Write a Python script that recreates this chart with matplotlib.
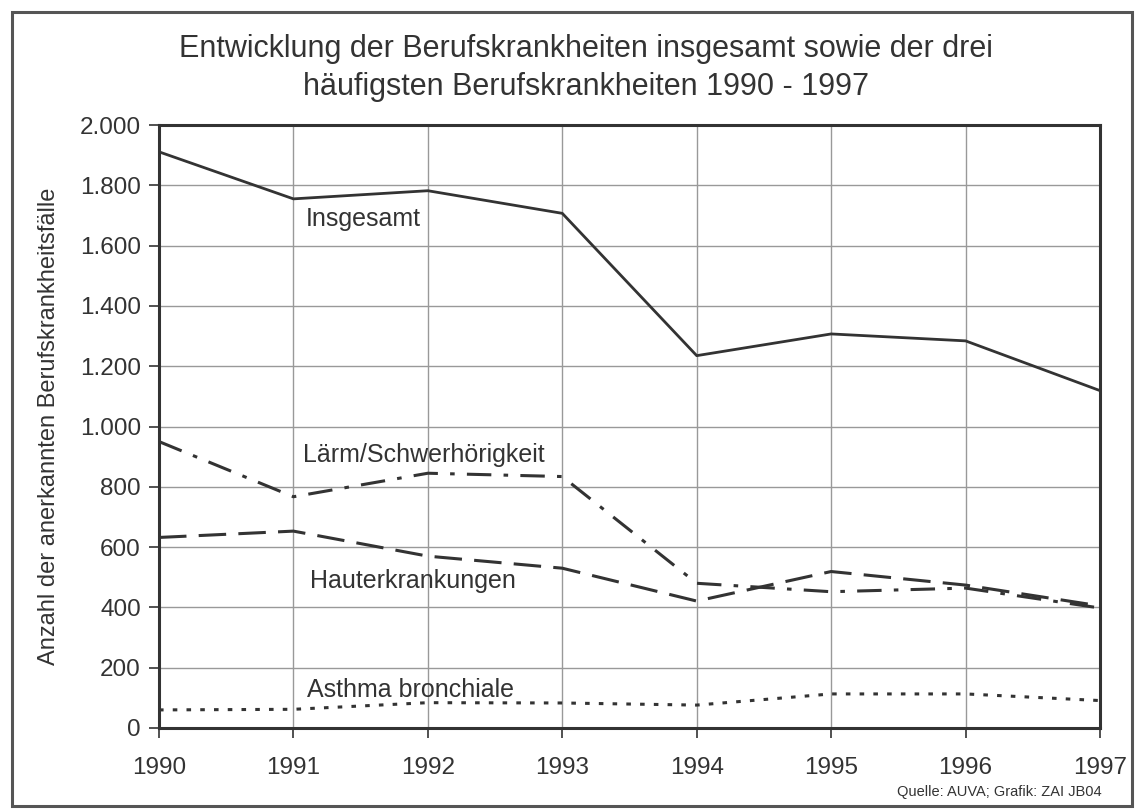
import matplotlib
matplotlib.use("Agg")
import matplotlib.pyplot as plt
from matplotlib.patches import Rectangle

# Daten
jahre = [1990, 1991, 1992, 1993, 1994, 1995, 1996, 1997]
insgesamt = [1911, 1755, 1782, 1707, 1235, 1307, 1284, 1119]
laerm = [950, 767, 845, 834, 480, 452, 464, 398]
haut = [632, 653, 570, 530, 421, 519, 474, 405]
asthma = [60, 62, 84, 83, 76, 113, 113, 91]

y_ticks = [0, 200, 400, 600, 800, 1000, 1200, 1400, 1600, 1800, 2000]
y_labels = ["0", "200", "400", "600", "800", "1.000", "1.200", "1.400",
            "1.600", "1.800", "2.000"]

titel = ("Entwicklung der Berufskrankheiten insgesamt sowie der drei\n"
         "häufigsten Berufskrankheiten 1990 - 1997")
quelle = "Quelle: AUVA; Grafik: ZAI JB04"

plt.rcParams["font.family"] = ["Liberation Sans", "DejaVu Sans"]
farbe = "#333333"

fig = plt.figure(figsize=(11.36, 8.10), dpi=100)
ax = fig.add_axes([159 / 1136, 1 - 728 / 810, (1100 - 159) / 1136, (728 - 125) / 810])

# Rahmen um die ganze Grafik
fig.patches.append(Rectangle((12 / 1136, 4 / 810), 1120 / 1136, 794 / 810,
                             transform=fig.transFigure, fill=False,
                             edgecolor="#555555", linewidth=2.2))

ax.plot(jahre, insgesamt, color=farbe, linewidth=2.0, linestyle="-")
ax.plot(jahre, laerm, color=farbe, linewidth=2.2, linestyle=(0, (8, 4, 1.5, 4)))
ax.plot(jahre, haut, color=farbe, linewidth=2.2, linestyle=(0, (9, 4)))
ax.plot(jahre, asthma, color=farbe, linewidth=2.2, linestyle=(0, (1.5, 3)))

# Beschriftungen der Linien
ax.text(1991.09, 1665, "Insgesamt", fontsize=18, color=farbe)
ax.text(1991.07, 883, "Lärm/Schwerhörigkeit", fontsize=18, color=farbe)
ax.text(1991.12, 464, "Hauterkrankungen", fontsize=18, color=farbe)
ax.text(1991.10, 104, "Asthma bronchiale", fontsize=18, color=farbe)

ax.set_xlim(1990, 1997)
ax.set_ylim(0, 2000)
ax.set_xticks(jahre)
ax.set_xticklabels([str(j) for j in jahre])
ax.set_yticks(y_ticks)
ax.set_yticklabels(y_labels)
ax.tick_params(axis="both", labelsize=17.5, colors=farbe, length=7, width=1.2)
ax.tick_params(axis="x", pad=14)
ax.tick_params(axis="y", pad=6)
ax.grid(True, color="#999999", linewidth=1.0)
ax.set_axisbelow(True)
for seite in ax.spines.values():
    seite.set_linewidth(2.2)
    seite.set_color(farbe)

ax.set_ylabel("Anzahl der anerkannten Berufskrankheitsfälle", fontsize=17,
              color=farbe, labelpad=14)

fig.text(586 / 1136, 1 - 68 / 810, titel, ha="center", va="center",
         fontsize=22, color=farbe, linespacing=1.35)
fig.text(1102 / 1136, 1 - 792 / 810, quelle, ha="right", va="center",
         fontsize=10.5, color=farbe)

fig.savefig("out.png", dpi=100)
